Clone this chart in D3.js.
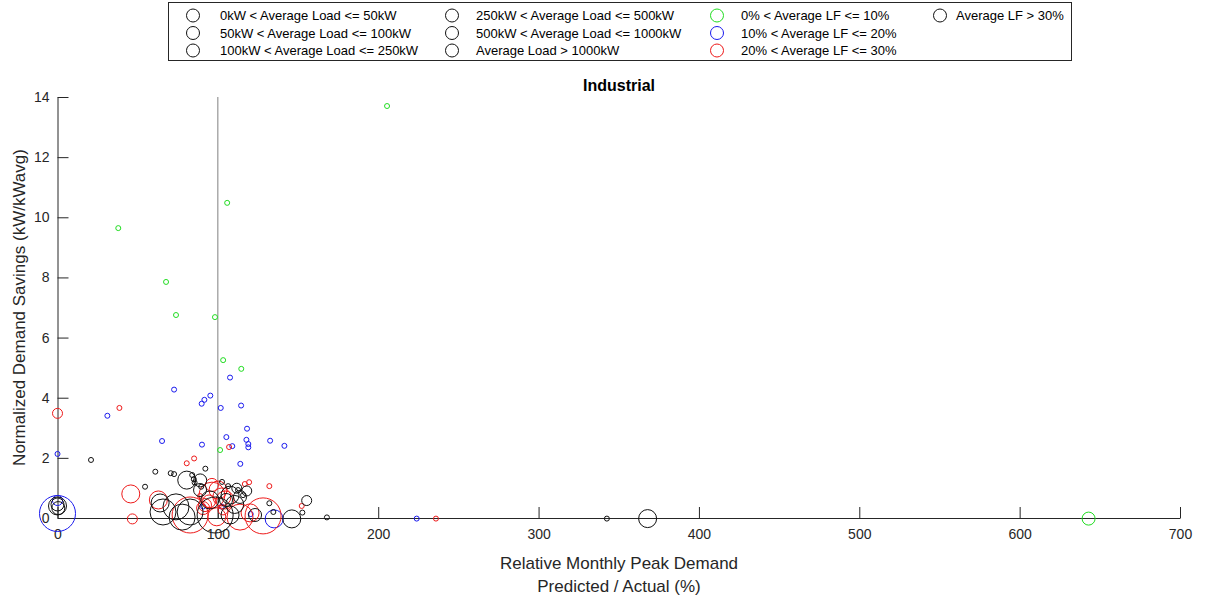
<!DOCTYPE html>
<html>
<head>
<meta charset="utf-8">
<script src="https://cdn.jsdelivr.net/npm/d3@7"></script>
<style>
html,body{margin:0;padding:0;background:#fff;}
svg text{font-family:"Liberation Sans",Arial,sans-serif;}
</style>
</head>
<body>
<svg id="chart" width="1206" height="599"></svg>
<script>
// ---------- data ----------
const loadLabels = ["0kW < Average Load <= 50kW","50kW < Average Load <= 100kW","100kW < Average Load <= 250kW",
  "250kW < Average Load <= 500kW","500kW < Average Load <= 1000kW","Average Load > 1000kW"];
const lfLabels = ["0% < Average LF <= 10%","10% < Average LF <= 20%","20% < Average LF <= 30%","Average LF > 30%"];
const xTicks = [0,100,200,300,400,500,600,700];
const yTicks = [0,2,4,6,8,10,12,14];

// points: relative peak (%), normalized savings, load class index, LF class index
const pointX = [
 205.5,37.9,105.8,67.7,73.9,98.2,103.3,114.6,101.4,643,
 107.6,72.7,95.3,91.6,89.9,101.8,114.5,31.1,118.2,65.2,105.3,117.8,132.6,141.5,90.1,119,119,109,114,0,224,0,0,135.1,102.4,90.8,120.5,
 38.6,107,85.2,80.6,119.5,116.8,132.1,152.3,236,88.9,0,46.7,45.7,62.9,82.7,96.3,100.1,104.5,92,90.8,113.8,128.2,103.2,99.3,120.1,96.3,102.5,94.5,
 20.9,61,54.6,70.6,72.7,92.2,152.7,168,342.6,84,85,85.5,89.6,132.1,134.6,102.6,106.4,112.6,115.7,155.4,111.8,368,80.6,0,0,0.5,64,146.1,123.2,73.9,82.7,65.8,77.7,98.3,107.6,105.1,107.6,113.8,88.9,95,110.5,89,118
];
const pointY = [
 13.70,9.64,10.48,7.85,6.75,6.68,5.25,4.96,2.26,-0.02,
 4.67,4.27,4.07,3.93,3.80,3.66,3.74,3.40,2.97,2.56,2.69,2.60,2.57,2.40,2.44,2.46,2.35,2.39,1.80,2.13,-0.02,0.58,0.15,-0.03,0.38,0.38,0.13,
 3.66,2.36,1.98,1.82,1.19,1.13,1.06,0.40,-0.02,0.73,3.48,-0.03,0.80,0.60,0.10,0.76,0.93,0.60,0.43,0.33,0.03,0.07,0.27,0.04,0.17,1.10,0.70,0.55,
 1.93,1.54,1.04,1.49,1.46,1.64,0.18,0.02,-0.02,1.43,1.29,1.18,1.04,0.49,0.20,1.20,1.06,0.93,0.76,0.58,0.99,-0.02,1.26,0.45,0.40,0.33,0.50,-0.03,0.10,0.37,0.20,0.20,0.03,0.10,0.76,0.60,0.10,0.70,0.93,0.60,0.45,1.25,0.90
];
const pointLoad = [
 0,0,0,0,0,0,0,0,0,2,
 0,0,0,0,0,0,0,0,0,0,0,0,0,0,0,0,0,0,0,0,0,1,5,3,0,0,0,
 0,0,0,0,0,0,0,0,0,0,1,1,3,3,5,4,3,3,2,2,4,5,1,3,3,2,3,2,
 0,0,0,0,0,0,0,0,0,0,0,0,0,0,0,0,0,0,0,1,1,3,3,2,3,2,3,3,2,4,4,4,4,5,3,2,3,2,2,3,3,2,1
];
const pointLF = [
 0,0,0,0,0,0,0,0,0,0,
 1,1,1,1,1,1,1,1,1,1,1,1,1,1,1,1,1,1,1,1,1,1,1,1,1,1,1,
 2,2,2,2,2,2,2,2,2,2,2,2,2,2,2,2,2,2,2,2,2,2,2,2,2,2,2,2,
 3,3,3,3,3,3,3,3,3,3,3,3,3,3,3,3,3,3,3,3,3,3,3,3,3,3,3,3,3,3,3,3,3,3,3,3,3,3,3,3,3,3,3
];

// ---------- styles ----------
const loadRadius = [2.5,5,6.5,9,13,18];
const lfColor = ["#22dd22","#1a1aee","#ee1a1a","#111111"];
const axisColor = "#262626";

const svg = d3.select("#chart");
const x = d3.scaleLinear().domain([0,700]).range([57.5,1180]);
const y = d3.scaleLinear().domain([0,14]).range([518,97]);

// reference line at 100%
svg.append("line")
  .attr("x1",x(100)).attr("x2",x(100)).attr("y1",y(0)).attr("y2",y(14))
  .attr("stroke","#808080").attr("stroke-width",1);

// axes
const xAxis = d3.axisBottom(x).tickValues(xTicks).tickSizeInner(-11).tickSizeOuter(0).tickPadding(11).tickFormat(d3.format("d"));
const yAxis = d3.axisLeft(y).tickValues(yTicks).tickSizeInner(-11).tickSizeOuter(0).tickPadding(8).tickFormat(d3.format("d"));
const gx = svg.append("g").attr("transform",`translate(0,${y(0)})`).call(xAxis);
const gy = svg.append("g").attr("transform",`translate(${x(0)},0)`).call(yAxis);
[gx,gy].forEach(g=>{
  g.select(".domain").attr("stroke",axisColor);
  g.selectAll(".tick line").attr("stroke",axisColor);
  g.selectAll(".tick text").attr("fill",axisColor).style("font-size","14px").style("font-family","'Liberation Sans',Arial,sans-serif");
});

// points
const pts = pointX.map((v,i)=>({x:v,y:pointY[i],load:pointLoad[i],lf:pointLF[i]}));
svg.append("g").selectAll("circle").data(pts).join("circle")
  .attr("cx",d=>x(d.x)).attr("cy",d=>y(d.y)).attr("r",d=>loadRadius[d.load])
  .attr("fill","none").attr("stroke",d=>lfColor[d.lf]).attr("stroke-width",1);

// title and labels
svg.append("text").attr("x",619).attr("y",91).attr("text-anchor","middle")
  .style("font-size","16px").style("font-weight","bold").attr("fill","#000").text("Industrial");
svg.append("text").attr("x",619).attr("y",569).attr("text-anchor","middle")
  .style("font-size","17px").attr("fill",axisColor).text("Relative Monthly Peak Demand");
svg.append("text").attr("x",619).attr("y",592).attr("text-anchor","middle")
  .style("font-size","17px").attr("fill",axisColor).text("Predicted / Actual (%)");
svg.append("text").attr("transform","translate(25,307.5) rotate(-90)").attr("text-anchor","middle")
  .style("font-size","17px").attr("fill",axisColor).text("Normalized Demand Savings (kW/kWavg)");

// legend
const leg = svg.append("g");
leg.append("rect").attr("x",168.5).attr("y",2.5).attr("width",903).attr("height",58)
  .attr("fill","#fff").attr("stroke","#262626").attr("stroke-width",1);
const legendItems = [];
loadLabels.forEach((t,i)=>legendItems.push({text:t,color:lfColor[3],col:Math.floor(i/3),row:i%3}));
lfLabels.forEach((t,i)=>legendItems.push({text:t,color:lfColor[i],col:i<3?2:3,row:i<3?i:0}));
const colCircle = [193,452,717,940];
const colText = [220,476,741,956];
const rowY = [15.5,33,50.5];
const li = leg.selectAll("g.item").data(legendItems).join("g").attr("class","item");
li.append("circle").attr("cx",d=>colCircle[d.col]).attr("cy",d=>rowY[d.row]).attr("r",6.5)
  .attr("fill","none").attr("stroke",d=>d.color).attr("stroke-width",1);
li.append("text").attr("x",d=>colText[d.col]).attr("y",d=>rowY[d.row]+4.5)
  .style("font-size","13px").attr("fill","#000").text(d=>d.text);
</script>
</body>
</html>
